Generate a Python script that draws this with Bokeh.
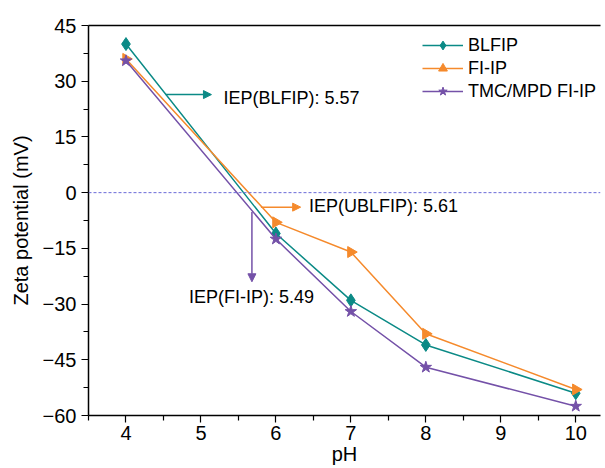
from bokeh.plotting import figure
from bokeh.models import (Range1d, Span, Arrow, NormalHead, Label, Legend, LegendItem,
                          LinearAxis, FixedTicker)
from bokeh.embed import file_html
from bokeh.resources import INLINE

ph = [4, 6, 7, 8, 10]
blfip = [40, -11, -29, -41, -54]
fiip = [36, -8, -16, -38, -53]
tmc = [35.5, -12.5, -32, -47, -57.5]
names = ["BLFIP", "FI-IP", "TMC/MPD FI-IP"]
colors = ["#0b8a86", "#f58a2c", "#7451a8"]

FONT = "Arial"

p = figure(width=605, height=468, output_backend="svg", toolbar_location=None,
           x_range=Range1d(3.5, 10.33), y_range=Range1d(-60, 45),
           min_border_left=88, min_border_right=5, min_border_top=25, min_border_bottom=53)
p.background_fill_color = "white"
p.border_fill_color = "white"
p.outline_line_color = None
p.xgrid.visible = False
p.ygrid.visible = False

for ax in (p.xaxis[0], p.yaxis[0]):
    ax.axis_line_color = "black"
    ax.axis_line_width = 1.5
    ax.major_tick_line_color = "black"
    ax.minor_tick_line_color = "black"
    ax.major_tick_line_width = 1.2
    ax.minor_tick_line_width = 1.2
    ax.major_tick_out = 7
    ax.major_tick_in = 0
    ax.minor_tick_out = 5
    ax.minor_tick_in = 0
    ax.major_label_text_font = FONT
    ax.major_label_text_font_size = "20px"
    ax.major_label_text_color = "black"
    ax.axis_label_text_font = FONT
    ax.axis_label_text_font_size = "20px"
    ax.axis_label_text_font_style = "normal"
    ax.axis_label_text_color = "black"

p.xaxis.ticker = FixedTicker(ticks=[4, 5, 6, 7, 8, 9, 10],
                             minor_ticks=[3.5, 4.5, 5.5, 6.5, 7.5, 8.5, 9.5])
p.yaxis.ticker = FixedTicker(ticks=[-60, -45, -30, -15, 0, 15, 30, 45],
                             minor_ticks=[-52.5, -37.5, -22.5, -7.5, 7.5, 22.5, 37.5])
p.xaxis.axis_label = "pH"
p.yaxis.axis_label = "Zeta potential (mV)"
p.xaxis.major_label_standoff = 3
p.xaxis.axis_label_standoff = 0
p.yaxis.major_label_standoff = 5
p.yaxis.axis_label_standoff = 8

top = LinearAxis(ticker=FixedTicker(ticks=[], minor_ticks=[]),
                 major_tick_line_color=None, minor_tick_line_color=None,
                 axis_line_width=1.5, axis_line_color="black")
p.add_layout(top, "above")

p.add_layout(Span(location=0, dimension="width", line_color="#6a6ad8",
                  line_dash="3 2", line_width=1))

r0 = p.line(ph, blfip, line_color=colors[0], line_width=1.5)
m0 = p.scatter(ph, blfip, marker="diamond", size=13, fill_color=colors[0], line_color=colors[0])
r1 = p.line(ph, fiip, line_color=colors[1], line_width=1.5)
m1 = p.scatter(ph, fiip, marker="triangle", angle=-1.5708, size=11, fill_color=colors[1], line_color=colors[1])
r2 = p.line(ph, tmc, line_color=colors[2], line_width=1.5)
m2 = p.scatter(ph, tmc, marker="star", size=12, fill_color=colors[2], line_color=colors[2])
items = [LegendItem(label=names[0], renderers=[r0, m0]),
         LegendItem(label=names[1], renderers=[r1, m1]),
         LegendItem(label=names[2], renderers=[r2, m2])]
legend = Legend(items=items, location=(334, 313), border_line_color=None,
                background_fill_alpha=0, label_text_font=FONT, label_text_font_size="18px",
                label_text_color="black",
                glyph_width=41, glyph_height=22, spacing=1, label_standoff=5, padding=8)
p.add_layout(legend, "center")

# annotations
LBL = dict(text_font=FONT, text_font_size="18px", text_baseline="middle", text_color="black")
p.add_layout(Arrow(end=NormalHead(size=8, fill_color=colors[0], line_color=colors[0]),
                   x_start=4.53, y_start=26.4, x_end=5.14, y_end=26.4,
                   line_color=colors[0], line_width=1.5))
p.add_layout(Label(x=5.30, y=25.6, text="IEP(BLFIP): 5.57", **LBL))
p.add_layout(Arrow(end=NormalHead(size=8, fill_color=colors[1], line_color=colors[1]),
                   x_start=5.8, y_start=-3.9, x_end=6.33, y_end=-3.9,
                   line_color=colors[1], line_width=1.5))
p.add_layout(Label(x=6.44, y=-3.7, text="IEP(UBLFIP): 5.61", **LBL))
p.add_layout(Arrow(end=NormalHead(size=8, fill_color=colors[2], line_color=colors[2]),
                   x_start=5.68, y_start=-5.2, x_end=5.68, y_end=-24.0,
                   line_color=colors[2], line_width=1.5))
p.add_layout(Label(x=4.84, y=-28.2, text="IEP(FI-IP): 5.49", **LBL))

open("out.html", "w").write(file_html(p, INLINE))
